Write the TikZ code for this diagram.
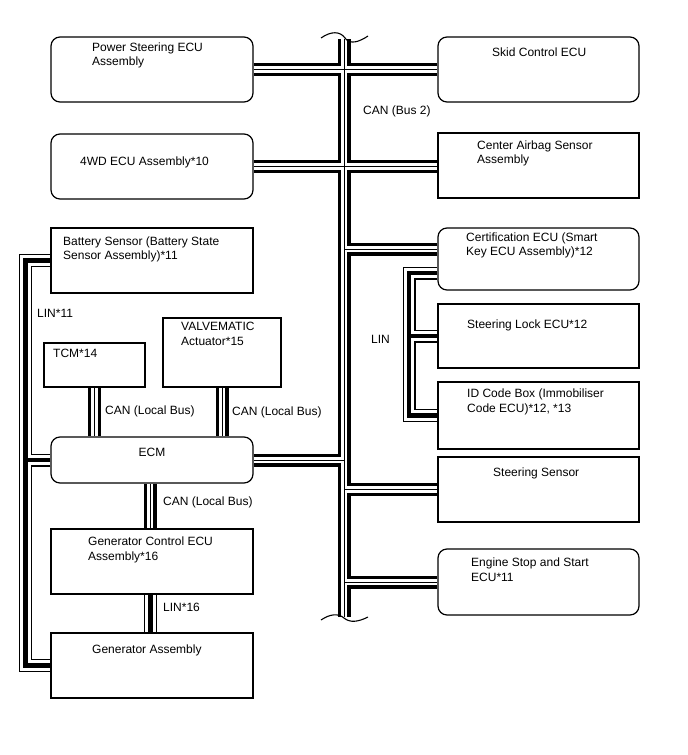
\documentclass[tikz,border=0pt]{standalone}
\usepackage{fontspec}
\setmainfont{Liberation Sans}
\usetikzlibrary{backgrounds}
\begin{document}
\begin{tikzpicture}[x=1pt,y=-1pt,
  box/.style={draw, line width=1.2pt, fill=white, inner sep=0pt},
  rbox/.style={box, rounded corners=9pt},
  txt/.style={inner sep=0pt, anchor=north west, align=left, font=\fontsize{12}{14.5}\selectfont},
  canA/.style={line width=13pt, black},
  canB/.style={line width=6.6pt, white},
  canC/.style={line width=0.8pt, black},
  linA/.style={line width=13pt, black, line join=miter},
  linB/.style={line width=10.6pt, white, line join=miter},
  linC/.style={line width=4.4pt, black, line join=miter},
  brk/.style={line width=1.1pt, black},
]
\useasboundingbox (0,0) rectangle (688,755);
% boxes
\node[rbox, minimum width=202pt, minimum height=65pt] (ps) at (152,69.5) {};
\node[rbox, minimum width=201pt, minimum height=65pt] (sk) at (538.5,69.5) {};
\node[rbox, minimum width=202pt, minimum height=65pt] (wd) at (152,166.5) {};
\node[box, minimum width=201pt, minimum height=65pt] (ca) at (538.5,165.5) {};
\node[box, minimum width=202pt, minimum height=65pt] (bs) at (152,260.5) {};
\node[rbox, minimum width=201pt, minimum height=62pt] (ce) at (538.5,259) {};
\node[box, minimum width=201pt, minimum height=64pt] (sl) at (538.5,336) {};
\node[box, minimum width=201pt, minimum height=67pt] (id) at (538.5,415.5) {};
\node[rbox, minimum width=202pt, minimum height=46pt] (ecm) at (152,460) {};
\node[box, minimum width=201pt, minimum height=65pt] (ss) at (538.5,489.5) {};
\node[box, minimum width=202pt, minimum height=65pt] (gc) at (152,561.5) {};
\node[rbox, minimum width=201pt, minimum height=66pt] (es) at (538.5,582) {};
\node[box, minimum width=202pt, minimum height=65pt] (ga) at (152,665.5) {};
\node[box, minimum width=101pt, minimum height=44pt] (tcm) at (94.5,365) {};
\node[box, minimum width=118pt, minimum height=69pt] (vm) at (222,352.5) {};
% coordinates
\coordinate (bustop) at (344,39);
\coordinate (busbot) at (344,617);
\coordinate (bus) at (344,0);
\coordinate (linL) at (25.5,0);
\coordinate (linR) at (409,0);
\coordinate (ceC) at ([yshift=10pt]ce.west);
\coordinate (ceL) at ([yshift=-14pt]ce.west);
\coordinate (ecmS) at ([xshift=-2pt]ecm.south);
\coordinate (gcS) at ([xshift=-1.5pt]gc.south);
\newcommand\canpaths[1]{%
  \draw[#1] (bustop) -- (busbot);
  \draw[#1] (ps.east) -- (sk.west);
  \draw[#1] (wd.east) -- (wd.east -| ca.west);
  \draw[#1] (ceC) -- (ceC -| bus);
  \draw[#1] (ecm.east) -- (ecm.east -| bus);
  \draw[#1] (ss.west) -- (ss.west -| bus);
  \draw[#1] (es.west) -- (es.west -| bus);
  \draw[#1] (tcm.south) -- (tcm.south |- ecm.north);
  \draw[#1] (vm.south) -- (vm.south |- ecm.north);
  \draw[#1] (ecmS) -- (ecmS |- gc.north);
}
\newcommand\linpaths[1]{%
  \draw[#1] (bs.west) -- (bs.west -| linL) -- (ga.west -| linL) -- (ga.west);
  \draw[#1] (ecm.west) -- (ecm.west -| linL);
  \draw[#1] (ceL) -- (ceL -| linR) -- (id.west -| linR) -- (id.west);
  \draw[#1] (sl.west) -- (sl.west -| linR);
  \draw[#1] (gcS) -- (gcS |- ga.north);
}
\begin{scope}[on background layer]
  \canpaths{canA}
  \linpaths{linA}
  \canpaths{canB}
  \linpaths{linB}
  \canpaths{canC}
  \linpaths{linC}
\end{scope}
% break marks
\draw[brk] (321,38) .. controls (331,31) and (340,31) .. (345,38) .. controls (350,45) and (359,42) .. (368,36);
\draw[brk] (321,620) .. controls (330,614) and (338,613) .. (344,618) .. controls (350,623) and (358,622) .. (368,617);
% texts
\node[txt] (tps) at (92,42.6) {Power Steering ECU\\Assembly};
\node[txt] (tsk) at (492,47.6) {Skid Control ECU};
\node[txt] (tcan2) at (363,105.6) {CAN (Bus 2)};
\node[txt] (twd) at (80,156.6) {4WD ECU Assembly*10};
\node[txt] (tca) at (477,140.6) {Center Airbag Sensor\\Assembly};
\node[txt] (tbs) at (63,236.6) {Battery Sensor (Battery State\\Sensor Assembly)*11};
\node[txt] (tce) at (466,232.6) {Certification ECU (Smart\\Key ECU Assembly)*12};
\node[txt] (tlin11) at (37,308.6) {LIN*11};
\node[txt] (tvm) at (181,322) {VALVEMATIC\\Actuator*15};
\node[txt] (ttcm) at (53,348.6) {TCM*14};
\node[txt] (tsl) at (467,319.6) {Steering Lock ECU*12};
\node[txt] (tlin) at (371,334.6) {LIN};
\node[txt] (tcl1) at (105,405.6) {CAN (Local Bus)};
\node[txt] (tcl2) at (232,407) {CAN (Local Bus)};
\node[txt] (tid) at (467,388.6) {ID Code Box (Immobiliser\\Code ECU)*12, *13};
\node[txt, anchor=center] (tecm) at (152,452.5) {ECM};
\node[txt] (tss) at (493,467.6) {Steering Sensor};
\node[txt] (tcl3) at (163,496.6) {CAN (Local Bus)};
\node[txt] (tgc) at (88,536.6) {Generator Control ECU\\Assembly*16};
\node[txt] (tes) at (471,557.6) {Engine Stop and Start\\ECU*11};
\node[txt] (tlin16) at (163,603) {LIN*16};
\node[txt] (tga) at (92,644.6) {Generator Assembly};
\end{tikzpicture}
\end{document}
